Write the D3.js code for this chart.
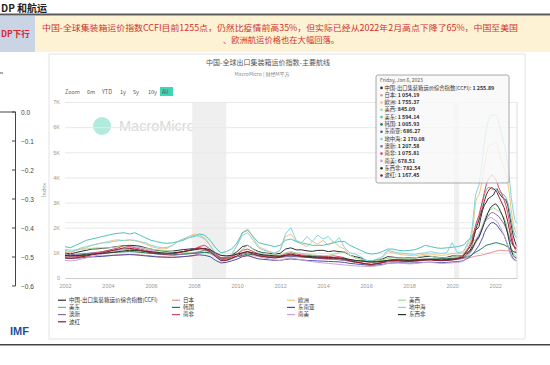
<!DOCTYPE html>
<html><head><meta charset="utf-8">
<script src="https://cdn.jsdelivr.net/npm/d3@7"></script>
<style>
html,body{margin:0;padding:0;background:#fff;overflow:hidden}
svg{display:block;font-family:"Noto Sans CJK SC","Noto Sans",sans-serif}
</style></head><body>
<svg id="c" width="550" height="365"></svg>
<script>
// ---------- DATA ----------
const seriesNames = ["中国-出口集装箱运价综合指数(CCFI)","日本","欧洲","美西","美东","韩国","东南亚","地中海","澳新","南非","南美","东西非","波红"];
const latestValues = ["1 255.89","1 054.19","1 755.37","845.09","1 594.14","1 005.93","686.27","2 170.08","1 207.58","1 075.81","678.51","782.54","1 167.45"];
const tooltipDate = "Friday, Jan 6, 2023";
const xTickYears = [2002,2004,2006,2008,2010,2012,2014,2016,2018,2020,2022];
const yTickValues = [0,1000,2000,3000,4000,5000,6000,7000];
const recessions = [["2007-12-01","2009-06-30"],["2020-02-01","2020-04-30"]];
const rangeButtons = ["6m","YTD","1y","5y","10y","All"];
const imfTicks = [0,-0.1,-0.2,-0.3,-0.4,-0.5,-0.6];

// quarterly 2002Q1..2020Q2 then monthly 2020-07..2023-01
const ccfi = [1000,960,1010,1060, 1100,1150,1160,1180, 1200,1230,1260,1280, 1300,1290,1260,1200, 1150,1100,1080,1060, 1070,1100,1130,1150, 1170,1180,1150,1080, 900,780,800,900, 1050,1250,1300,1150, 1050,1000,980,950, 980,1150,1200,1120, 1120,1080,1060,1100, 1100,1050,1080,1050, 1030,900,850,800, 700,680,720,750, 850,830,800,790, 800,790,820,850, 860,830,810,820, 880,870,
 900,950,1000,1050,1100,1250, 1600,1900,1950,2050,2400,2700,2900,3000,3150,3200,3250,3300, 3450,3550,3400,3300,3200,3150,3100,2900,2500,2100,1700,1450, 1256];
const japan = [900,880,870,860, 850,860,870,880, 900,910,920,930, 940,930,920,900, 880,860,850,840, 830,840,850,860, 880,1000,1150,1050, 950,900,870,860, 850,860,870,880, 870,860,850,840, 830,840,850,840, 830,820,810,800, 780,770,760,750, 720,700,680,660, 640,630,640,660, 680,690,700,710, 700,710,720,730, 740,740,750,750, 760,760,
 770,780,790,800,810,830, 850,870,880,890,900,920,940,960,980,1000,1020,1040, 1060,1080,1090,1100,1100,1090,1080,1080,1070,1060,1060,1055, 1054];
const europe = [1050,1000,1080,1150, 1200,1300,1350,1400, 1450,1500,1520,1480, 1500,1480,1420,1350, 1250,1200,1150,1180, 1300,1450,1550,1650, 1750,1700,1600,1300, 900,650,700,900, 1300,1800,1950,1600, 1250,1150,1050,950, 1100,1650,1750,1450, 1350,1250,1450,1350, 1500,1300,1450,1250, 1150,900,800,750, 650,620,700,800, 1050,1000,950,920, 900,880,920,950, 960,920,900,920, 980,960,
 1000,1100,1200,1350,1450,1700, 2300,3000,3200,3300,3600,4000,4400,4900,5200,5300,5350,5300, 5400,5350,5100,4800,4600,4400,4200,3800,3300,2700,2200,1900, 1755];
const usWest = [1150,1100,1120,1150, 1150,1180,1200,1200, 1200,1220,1250,1250, 1250,1230,1210,1180, 1150,1120,1100,1080, 1050,1030,1020,1000, 980,1000,1020,960, 850,750,780,850, 950,1150,1300,1150, 1000,980,950,900, 920,1000,1050,1000, 980,950,920,900, 880,900,950,1000, 1050,900,800,750, 700,650,680,720, 780,800,790,780, 780,790,850,900, 870,820,800,810, 830,850,
 900,1000,1100,1150,1200,1300, 1450,1550,1600,1700,1900,2100,2300,2500,2600,2700,2750,2800, 2750,2700,2650,2600,2500,2400,2200,1900,1500,1200,1000,900, 845];
const usEast = [1250,1200,1300,1400, 1500,1550,1600,1650, 1700,1750,1780,1800, 1750,1800,1700,1600, 1500,1450,1400,1380, 1400,1450,1500,1600, 1650,1750,1700,1500, 1200,1000,1050,1150, 1400,1800,1900,1650, 1400,1350,1300,1250, 1300,1500,1550,1450, 1400,1350,1300,1300, 1300,1350,1400,1450, 1450,1300,1200,1100, 1000,950,980,1050, 1150,1150,1100,1080, 1100,1120,1200,1300, 1250,1200,1180,1200, 1220,1250,
 1300,1350,1450,1500,1550,1650, 1800,2000,2200,2400,2700,3000,3300,3500,3600,3600,3550,3500, 3550,3500,3450,3400,3350,3300,3200,3000,2700,2300,1900,1700, 1594];
const korea = [900,880,900,920, 950,970,980,990, 1000,1020,1030,1040, 1050,1040,1020,1000, 980,960,950,940, 930,940,950,960, 980,1000,1020,1000, 900,800,780,800, 850,900,950,930, 900,880,870,860, 850,860,870,860, 850,840,830,820, 800,790,780,770, 750,720,700,690, 670,650,660,680, 700,710,720,720, 720,730,740,750, 760,760,770,770, 780,790,
 800,820,840,860,880,920, 980,1020,1060,1100,1150,1200,1250,1300,1320,1340,1360,1380, 1400,1400,1380,1360,1340,1320,1280,1240,1200,1120,1060,1020, 1006];
const seAsia = [800,780,790,800, 820,840,850,860, 880,900,910,920, 930,920,900,880, 860,840,830,820, 820,830,850,870, 900,920,900,850, 700,600,620,680, 750,850,900,820, 760,740,720,700, 700,740,760,740, 720,700,690,680, 670,660,650,640, 620,580,560,540, 520,500,520,540, 580,600,610,600, 590,600,610,620, 630,620,610,620, 640,650,
 680,720,760,800,850,920, 1000,1100,1200,1300,1450,1600,1800,1950,2050,2150,2200,2200, 2150,2100,2000,1900,1800,1700,1500,1300,1100,900,780,720, 686];
const medit = [1100,1050,1100,1200, 1250,1300,1350,1400, 1400,1450,1480,1500, 1520,1500,1450,1400, 1300,1250,1200,1220, 1300,1450,1550,1600, 1700,1650,1550,1300, 950,700,750,950, 1300,1700,1800,1500, 1200,1100,1050,1000, 1100,1750,2000,1500, 1400,1650,1450,1700, 1550,1650,1400,1600, 1200,1000,950,850, 700,680,750,850, 1100,1050,1000,980, 950,940,980,1000, 1050,1000,980,1000, 1400,1000,
 1050,1150,1300,1450,1600,1900, 2600,3300,3500,3700,4200,4800,5400,5900,6200,6400,6500,6450, 6500,6400,6200,5900,5600,5300,5000,4500,3900,3200,2700,2300, 2170];
const anz = [950,930,940,960, 980,1000,1020,1050, 1080,1100,1120,1150, 1150,1130,1100,1050, 1000,960,940,920, 900,920,950,980, 1000,1050,1100,1050, 900,750,720,780, 850,950,1000,950, 900,850,820,800, 820,850,880,860, 840,820,800,780, 760,750,740,720, 700,660,620,600, 560,540,560,600, 640,660,670,660, 650,660,680,700, 720,700,690,700, 720,740,
 780,830,880,950,1000,1100, 1250,1400,1500,1600,1800,2000,2200,2350,2450,2550,2600,2600, 2550,2500,2450,2350,2250,2150,2000,1800,1600,1400,1300,1230, 1208];
const sAfrica = [850,830,850,880, 900,950,1000,1050, 1100,1150,1200,1300, 1250,1200,1150,1100, 1050,1000,980,960, 980,1000,1050,1100, 1150,1250,1300,1150, 950,800,780,850, 950,1100,1150,1050, 950,900,880,850, 870,950,1000,950, 920,900,880,870, 860,850,880,850, 800,700,650,600, 560,540,580,620, 700,720,700,680, 680,700,720,750, 740,720,700,720, 760,800,
 900,1000,1100,1200,1350,1500, 1800,2100,2300,2500,2800,3100,3400,3700,3900,4000,4100,4050, 3950,3800,3600,3450,3300,3100,2900,2600,2200,1800,1400,1150, 1076];
const sAmerica = [700,680,700,750, 800,850,900,950, 1000,1050,1100,1150, 1200,1250,1200,1150, 1100,1050,1000,950, 950,1000,1050,1100, 1150,1200,1150,1050, 850,700,680,750, 850,1000,1050,950, 850,800,760,720, 700,760,800,760, 720,680,650,620, 600,580,560,540, 520,500,480,470, 460,460,480,520, 580,600,600,580, 560,570,600,620, 620,600,580,590, 600,620,
 660,720,800,900,1000,1150, 1300,1450,1600,1750,1900,2050,2200,2300,2350,2400,2400,2350, 2300,2250,2150,2000,1850,1700,1500,1300,1050,850,740,700, 679];
const wAfrica = [900,880,890,900, 920,940,960,980, 1000,1020,1050,1080, 1100,1090,1080,1060, 1040,1020,1000,990, 1000,1020,1050,1080, 1120,1150,1180,1120, 1000,900,880,900, 950,1000,1050,1000, 950,920,900,880, 870,900,920,900, 880,860,850,840, 830,820,810,800, 780,740,700,680, 650,630,640,660, 700,720,720,710, 700,710,720,730, 740,730,720,730, 750,770,
 820,880,950,1000,1050,1150, 1300,1450,1550,1650,1800,2000,2200,2400,2600,2750,2850,2900, 2950,2900,2800,2650,2500,2300,2050,1750,1400,1100,900,820, 783];
const gulfRed = [800,780,800,840, 880,920,960,1000, 1050,1100,1150,1200, 1180,1150,1100,1050, 1000,980,960,950, 970,1000,1050,1100, 1150,1200,1150,1050, 850,700,700,780, 880,1000,1050,950, 880,850,820,800, 820,900,950,900, 860,830,810,800, 790,780,800,780, 740,680,640,600, 560,540,570,610, 680,700,690,670, 660,680,700,720, 720,700,690,700, 720,760,
 850,950,1050,1150,1250,1400, 1650,1900,2100,2300,2550,2800,3050,3300,3450,3550,3600,3550, 3500,3400,3250,3100,2950,2800,2550,2250,1900,1550,1300,1200, 1167];

const seriesValues = [ccfi,japan,europe,usWest,usEast,korea,seAsia,medit,anz,sAfrica,sAmerica,wAfrica,gulfRed];
const seriesColors = ["#2e2e3c","#ec8f8a","#f6c27e","#a9d69a","#4fc3b9","#1d7a55","#4b50a8","#7fd6e2","#8a6fa6","#d9476a","#c6a3da","#1f3b2b","#8e1d22"];

// ---------- DRAW ----------
const svg = d3.select("#c");
const dates = [...d3.timeMonth.every(3).range(new Date(2002,0,1), new Date(2020,6,1)),
               ...d3.timeMonth.range(new Date(2020,6,1), new Date(2023,1,1))];

// slide header
svg.append("text").attr("x",1).attr("y",12).attr("font-size",10).attr("font-weight","bold").attr("fill","#222").text("DP 和航运");
svg.append("rect").attr("x",0).attr("y",13.5).attr("width",550).attr("height",2).attr("fill","#5a5a5a");
svg.append("rect").attr("x",0).attr("y",16).attr("width",35).attr("height",36).attr("fill","#c9d4e4");
svg.append("text").attr("x",1).attr("y",37).attr("font-size",8.5).attr("font-weight","bold").attr("fill","#d9262b").text("DP下行");
svg.append("rect").attr("x",35).attr("y",16).attr("width",515).attr("height",36).attr("fill","#fdf3d4");
svg.append("text").attr("x",42).attr("y",31).attr("font-size",8.3).attr("fill","#d0312d")
  .attr("textLength",476).attr("lengthAdjust","spacingAndGlyphs")
  .text("中国-全球集装箱运价指数CCFI目前1255点，仍然比疫情前高35%，但实际已经从2022年2月高点下降了65%，中国至美国");
svg.append("text").attr("x",281).attr("y",43).attr("text-anchor","middle").attr("font-size",8.3).attr("fill","#d0312d")
  .text("、欧洲航运价格也在大幅回落。");

// left IMF fragment
svg.append("line").attr("x1",0).attr("x2",3).attr("y1",73).attr("y2",73).attr("stroke","#555");
const imfY = d3.scaleLinear().domain([0,-0.6]).range([112,286]);
svg.append("line").attr("x1",0).attr("x2",15.5).attr("y1",112).attr("y2",112).attr("stroke","#444");
svg.append("line").attr("x1",15.5).attr("x2",15.5).attr("y1",112).attr("y2",286).attr("stroke","#444");
imfTicks.forEach(t=>{
  svg.append("line").attr("x1",12).attr("x2",15.5).attr("y1",imfY(t)).attr("y2",imfY(t)).attr("stroke","#444");
  svg.append("text").attr("x",21).attr("y",imfY(t)+2.5).attr("font-size",6.5).attr("fill","#444")
    .attr("font-family","Liberation Sans, Arial").text(d3.format(".1f")(t));
});
svg.append("text").attr("x",10).attr("y",335).attr("font-size",11).attr("font-weight","bold").attr("fill","#1f4f9c")
  .attr("font-family","Liberation Sans, Arial").text("IMF");
svg.append("rect").attr("x",0).attr("y",344).attr("width",550).attr("height",1.5).attr("fill","#444");

// chart card
svg.append("rect").attr("x",49).attr("y",54).attr("width",476).attr("height",285).attr("fill","#fff")
  .attr("stroke","#e3e3e3").attr("stroke-width",1);
svg.append("text").attr("x",268).attr("y",65).attr("text-anchor","middle").attr("font-size",7).attr("fill","#555")
  .text("中国-全球出口集装箱运价指数-主要航线");
svg.append("text").attr("x",262).attr("y",76).attr("text-anchor","middle").attr("font-size",5).attr("fill","#888")
  .text("MacroMicro | 财经M平方");

// range selector
svg.append("text").attr("x",65).attr("y",94).attr("font-size",5.5).attr("fill","#666").text("Zoom");
const btnX = [87,102,120,133,148,162];
rangeButtons.forEach((b,i)=>{
  if(b==="All"){
    svg.append("rect").attr("x",160).attr("y",87).attr("width",13).attr("height",9).attr("fill","#3fd6b3");
  }
  svg.append("text").attr("x",btnX[i]).attr("y",94).attr("font-size",5.5).attr("fill","#555").text(b);
});

const x = d3.scaleTime().domain([new Date(2002,0,1), new Date(2023,0,6)]).range([65,517]);
const y = d3.scaleLinear().domain([0,7000]).range([278,102]);

// watermark
svg.append("circle").attr("cx",102).attr("cy",126).attr("r",9).attr("fill","#8fe3cf").attr("opacity",0.7);
svg.append("text").attr("x",119).attr("y",131).attr("font-size",14.5).attr("fill","#d9d9d9")
  .attr("font-family","Liberation Sans, Arial").text("MacroMicro");

// recession bands
recessions.forEach(r=>{
  const a = x(new Date(r[0])), b = x(new Date(r[1]));
  svg.append("rect").attr("x",a).attr("y",102).attr("width",b-a).attr("height",176).attr("fill","#efefef");
});

// gridlines + y axis
const yAxis = d3.axisLeft(y).tickValues(yTickValues).tickSize(-452).tickFormat(d=>d===0?"0":(d/1000)+"K");
const gy = svg.append("g").attr("transform","translate(65,0)").call(yAxis);
gy.select(".domain").remove();
gy.selectAll(".tick line").attr("stroke","#e8e8e8");
gy.selectAll(".tick text").attr("x",-5).attr("font-size",5.5).attr("fill","#999");
svg.append("line").attr("x1",65).attr("x2",517).attr("y1",y(2200)).attr("y2",y(2200)).attr("stroke","#eaeaea");
svg.append("text").attr("transform","translate(46,190) rotate(-90)").attr("text-anchor","middle")
  .attr("font-size",5.5).attr("fill","#999").text("Index");

// x axis
const xAxis = d3.axisBottom(x).tickValues(xTickYears.map(v=>new Date(v,0,1))).tickSize(0).tickFormat(d3.timeFormat("%Y"));
const gx = svg.append("g").attr("transform","translate(0,278)").call(xAxis);
gx.select(".domain").attr("stroke","#ccc");
gx.selectAll(".tick text").attr("dy",7).attr("font-size",5.5).attr("fill","#999");

// lines
const line = d3.line().x((d,i)=>x(dates[i])).y(d=>y(d));
seriesValues.forEach((vals,k)=>{
  svg.append("path").datum(vals).attr("d",line).attr("fill","none")
    .attr("stroke",seriesColors[k]).attr("stroke-width",1).attr("stroke-linejoin","round");
});

// crosshair
svg.append("line").attr("x1",x(new Date(2023,0,6))).attr("x2",x(new Date(2023,0,6))).attr("y1",102).attr("y2",278)
  .attr("stroke","#ddd").attr("stroke-width",1);

// tooltip
const tt = svg.append("g");
tt.append("rect").attr("x",376).attr("y",75).attr("width",133).attr("height",108).attr("rx",2)
  .attr("fill","#f7f7f7").attr("fill-opacity",0.8).attr("stroke","#a8a8a8").attr("stroke-width",1);
tt.append("text").attr("x",380).attr("y",82).attr("font-size",5).attr("fill","#555").text(tooltipDate);
seriesNames.forEach((n,i)=>{
  const yy = 89.5 + i*7.3;
  tt.append("circle").attr("cx",381.5).attr("cy",yy-1.6).attr("r",1.3).attr("fill",seriesColors[i]);
  const t = tt.append("text").attr("x",384.5).attr("y",yy).attr("font-size",5.3).attr("fill","#333");
  t.append("tspan").text(n+": ");
  t.append("tspan").attr("font-weight","bold").text(latestValues[i]);
});

// legend
const colX = [58,172,287,398];
seriesNames.forEach((n,i)=>{
  const c = i%4, r = Math.floor(i/4);
  const lx = colX[c], ly = 302 + r*7.2;
  svg.append("line").attr("x1",lx).attr("x2",lx+8).attr("y1",ly-1.8).attr("y2",ly-1.8).attr("stroke",seriesColors[i]).attr("stroke-width",1.2);
  svg.append("text").attr("x",lx+11).attr("y",ly).attr("font-size",5.5).attr("fill","#333").text(n);
});
</script>
</body></html>
